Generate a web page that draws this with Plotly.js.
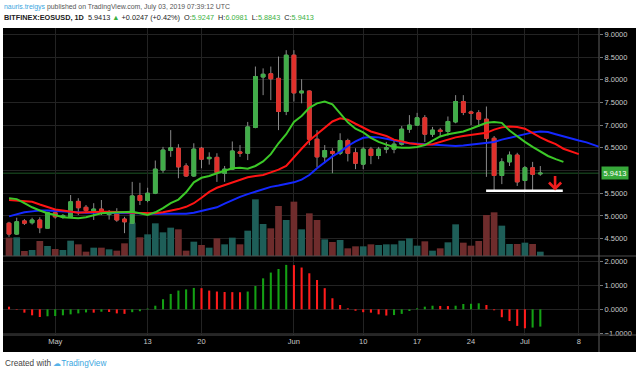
<!DOCTYPE html>
<html><head><meta charset="utf-8">
<script src="https://cdn.plot.ly/plotly-3.0.1.min.js"></script>
<style>html,body{margin:0;padding:0;background:#fff;}#chart{width:640px;height:374px;}</style>
</head><body><div id="chart"></div>
<script>
// ---- data ----
const dates = [
 '2019-04-25','2019-04-26','2019-04-27','2019-04-28','2019-04-29','2019-04-30',
 '2019-05-01','2019-05-02','2019-05-03','2019-05-04','2019-05-05','2019-05-06','2019-05-07','2019-05-08','2019-05-09','2019-05-10',
 '2019-05-11','2019-05-12','2019-05-13','2019-05-14','2019-05-15','2019-05-16','2019-05-17','2019-05-18','2019-05-19','2019-05-20',
 '2019-05-21','2019-05-22','2019-05-23','2019-05-24','2019-05-25','2019-05-26','2019-05-27','2019-05-28','2019-05-29','2019-05-30','2019-05-31',
 '2019-06-01','2019-06-02','2019-06-03','2019-06-04','2019-06-05','2019-06-06','2019-06-07','2019-06-08','2019-06-09','2019-06-10',
 '2019-06-11','2019-06-12','2019-06-13','2019-06-14','2019-06-15','2019-06-16','2019-06-17','2019-06-18','2019-06-19','2019-06-20',
 '2019-06-21','2019-06-22','2019-06-23','2019-06-24','2019-06-25','2019-06-26','2019-06-27','2019-06-28','2019-06-29','2019-06-30',
 '2019-07-01','2019-07-02','2019-07-03','2019-07-04','2019-07-05','2019-07-06','2019-07-07','2019-07-08','2019-07-09','2019-07-10','2019-07-11'
];
const opens = [4.84,4.60,4.89,4.85,4.91,4.73,5.07,4.97,4.98,5.32,
 5.19,5.11,5.15,5.03,5.08,4.93,4.84,5.45,5.34,5.50,
 6.01,6.44,6.49,6.10,5.88,6.49,6.26,6.29,5.94,6.03,
 6.41,6.38,6.95,8.06,8.13,8.03,7.30,8.54,7.71,7.75,
 6.69,6.30,6.42,6.38,6.66,6.39,6.14,6.47,6.33,6.47,
 6.47,6.58,6.91,7.00,7.16,6.80,6.89,6.86,7.07,7.52,
 7.29,7.27,7.13,6.71,5.89,6.19,6.34,5.78,6.06,5.9247];
const highs = [4.87,4.96,4.93,4.96,4.97,5.09,5.11,5.04,5.46,5.39,
 5.24,5.28,5.35,5.13,5.17,4.98,5.75,5.73,5.62,6.22,
 6.52,6.89,6.58,6.16,6.60,6.52,6.40,6.38,6.10,6.64,
 6.56,7.07,8.29,8.25,8.29,8.51,8.65,8.65,8.01,7.76,
 6.89,6.56,6.49,6.82,6.70,6.49,6.52,6.52,6.52,6.63,
 6.65,6.98,7.22,7.27,7.22,6.96,6.94,7.19,7.66,7.66,
 7.32,7.33,7.41,6.76,6.27,6.42,6.39,6.10,6.19,6.0981];
const lows = [4.54,4.58,4.80,4.81,4.62,4.73,4.94,4.94,4.97,5.02,
 5.06,4.91,5.02,4.92,4.87,4.62,4.83,5.24,5.30,5.48,
 5.95,6.30,5.83,5.86,5.86,6.05,6.13,5.75,5.75,6.01,
 6.30,6.23,6.93,7.66,7.55,6.89,7.22,7.52,7.48,6.56,
 6.07,6.16,5.94,6.34,6.20,6.03,6.03,6.14,6.25,6.38,
 6.38,6.55,6.83,6.98,6.63,6.74,6.74,6.77,7.04,7.22,
 7.00,6.96,5.86,5.57,5.70,6.10,5.66,5.57,5.57,5.8843];
const closes = [4.60,4.87,4.84,4.91,4.74,5.07,4.98,5.01,5.31,5.18,
 5.12,5.15,5.06,5.05,4.91,4.87,5.44,5.34,5.50,6.03,
 6.45,6.50,6.08,5.88,6.47,6.25,6.29,5.95,6.03,6.43,
 6.38,6.96,8.07,8.12,8.02,7.30,8.54,7.71,7.75,6.69,
 6.30,6.44,6.38,6.66,6.38,6.16,6.47,6.33,6.47,6.50,
 6.58,6.91,7.00,7.16,6.80,6.89,6.86,7.08,7.52,7.28,
 7.26,7.13,6.71,5.89,6.19,6.34,5.75,6.06,5.9166,5.9413];
const volumes = [5.5,5.6,1.5,1.8,4.5,3.0,2.1,1.8,4.6,3.5,
 1.3,2.5,2.5,2.0,1.6,3.8,10.0,5.6,6.5,9.8,
 7.1,8.5,8.0,1.6,4.3,3.3,2.5,5.3,3.5,5.5,
 3.5,7.6,17.0,9.6,8.3,15.0,10.8,16.3,8.0,12.8,
 10.8,5.0,4.2,4.8,2.3,2.9,2.9,3.5,3.3,3.5,
 3.5,4.6,5.3,3.1,4.4,1.6,2.3,4.1,9.5,4.0,
 3.1,4.5,12.3,13.1,9.1,3.6,3.6,4.0,3.6,1.3];
// Alligator lines (displaced forward, so they run past the last candle)
const lipsGreen = [5.39,5.37,5.28,5.19,5.12,5.06,5.02,4.97,4.96,4.95,
 4.97,5.02,5.06,5.07,5.08,5.09,5.09,5.06,5.02,5.08,
 5.17,5.28,5.36,5.52,5.74,5.84,5.88,5.94,6.00,6.05,
 6.06,6.04,6.10,6.20,6.36,6.60,6.80,7.07,7.20,7.38,
 7.48,7.52,7.46,7.25,7.06,6.92,6.84,6.72,6.63,6.57,
 6.52,6.50,6.50,6.52,6.56,6.66,6.75,6.80,6.83,6.86,
 6.92,6.98,7.05,7.07,7.05,6.88,6.75,6.63,6.52,6.42,
 6.32,6.25,6.19];
const teethRed = [5.35,5.34,5.33,5.31,5.25,5.19,5.14,5.12,5.10,5.07,
 5.08,5.09,5.09,5.09,5.09,5.08,5.07,5.07,5.06,5.06,
 5.08,5.11,5.15,5.20,5.28,5.40,5.53,5.62,5.68,5.74,
 5.80,5.85,5.88,5.90,5.96,6.02,6.10,6.30,6.48,6.66,
 6.80,6.95,7.08,7.15,7.12,7.03,6.94,6.86,6.81,6.76,
 6.68,6.64,6.60,6.58,6.57,6.58,6.63,6.69,6.73,6.76,
 6.78,6.80,6.83,6.90,6.95,6.97,6.96,6.92,6.82,6.73,
 6.65,6.58,6.48,6.42,6.36];
const jawBlue = [4.99,5.04,5.08,5.10,5.12,5.12,5.11,5.09,5.08,5.07,
 5.07,5.07,5.07,5.07,5.07,5.06,5.06,5.06,5.05,5.05,
 5.05,5.04,5.04,5.05,5.07,5.11,5.15,5.19,5.27,5.35,
 5.42,5.48,5.53,5.59,5.64,5.67,5.70,5.74,5.80,5.90,
 6.05,6.19,6.31,6.41,6.54,6.64,6.72,6.74,6.73,6.70,
 6.66,6.63,6.60,6.59,6.57,6.56,6.55,6.54,6.54,6.55,
 6.57,6.58,6.60,6.63,6.68,6.72,6.76,6.80,6.84,6.86,
 6.85,6.80,6.75,6.70,6.66,6.62,6.56,6.50];
const macdHist = [0.11,-0.02,-0.14,-0.25,-0.32,-0.29,-0.28,-0.25,-0.21,-0.17,
 -0.13,-0.14,-0.10,-0.11,-0.17,-0.19,-0.12,-0.08,0.03,0.15,
 0.42,0.64,0.78,0.83,0.89,0.88,0.78,0.74,0.72,0.715,
 0.71,0.74,0.97,1.29,1.53,1.68,1.85,1.84,1.74,1.50,
 1.22,0.88,0.46,0.18,0.04,-0.06,-0.12,-0.14,-0.21,-0.26,
 -0.24,-0.19,-0.07,0.04,0.11,0.15,0.14,0.135,0.15,0.22,
 0.23,0.25,0.18,-0.04,-0.33,-0.49,-0.69,-0.79,-0.76,-0.72];
const xTickVals = ['2019-05-01','2019-05-13','2019-05-20','2019-06-01','2019-06-10','2019-06-17','2019-06-24','2019-07-01','2019-07-08'];
const xTickText = ['May','13','20','Jun','10','17','24','Jul','8'];
// 6.0000 sits behind the last-price label in the reference, so it only keeps its grid line
const priceTickVals = [4.5,5.0,5.5,6.5,7.0,7.5,8.0,8.5,9.0];
const priceHiddenTick = [6.0];
const macdTickVals = [-1,0,1,2];
const supportLevel = 5.555, supportStart = '2019-06-25 23:00', supportEnd = '2019-07-05 22:00';
const arrowAt = '2019-07-04 22:00', arrowTip = 5.56;
const symbol = 'BITFINEX:EOSUSD, 1D';
const author = 'nauris.treigys';
const published = ' published on TradingView.com, July 03, 2019 07:39:12 UTC';

// ---- geometry helpers ----
const W=640, H=374, ML=3, MR=41, MT=28, MB=39;
const PW=W-ML-MR, PH=H-MT-MB;
const px2x = p => (p-ML)/PW;
const px2y = p => (H-MB-p)/PH;
const split = px2y(256);

const UP='#41ad49', DN='#e0302b', WICK='#8a8a8a';
const VUP='#1e5e58', VDN='#6e2c2c';
const MUP='#14a014', MDN='#ff1c1c';
const GRID='#232323', TXT='#c8c8c8', SEP='#4f4f4f';
const FAM='Liberation Sans, Arial, sans-serif';
const n = closes.length;
const cd = dates.slice(0,n);
const last = n-1;
const chg = closes[last]-closes[last-1];
const pct = chg/closes[last-1]*100;

const tickFont = {family:FAM, size:7.5, color:TXT};

const traces = [
 {type:'bar', x:cd, y:volumes, xaxis:'x', yaxis:'y',
  marker:{color:cd.map((d,i)=>closes[i]>=opens[i]?VUP:VDN), line:{width:0}}, hoverinfo:'skip'},
 {type:'candlestick', x:cd, open:opens, high:highs, low:lows, close:closes, xaxis:'x', yaxis:'y3',
  whiskerwidth:0,
  increasing:{line:{color:WICK,width:1}, fillcolor:WICK},
  decreasing:{line:{color:WICK,width:1}, fillcolor:WICK}, hoverinfo:'skip'},
 {type:'candlestick', x:cd, open:opens, close:closes,
  high:cd.map((d,i)=>Math.max(opens[i],closes[i])), low:cd.map((d,i)=>Math.min(opens[i],closes[i])),
  xaxis:'x', yaxis:'y3', whiskerwidth:0,
  increasing:{line:{color:UP,width:1}, fillcolor:UP},
  decreasing:{line:{color:DN,width:1}, fillcolor:DN}, hoverinfo:'skip'},
 {type:'scatter', mode:'lines', x:dates.slice(0,jawBlue.length), y:jawBlue, xaxis:'x', yaxis:'y3', line:{color:'#1428ff',width:2}, hoverinfo:'skip'},
 {type:'scatter', mode:'lines', x:dates.slice(0,teethRed.length), y:teethRed, xaxis:'x', yaxis:'y3', line:{color:'#ff1414',width:2}, hoverinfo:'skip'},
 {type:'scatter', mode:'lines', x:dates.slice(0,lipsGreen.length), y:lipsGreen, xaxis:'x', yaxis:'y3', line:{color:'#3cc828',width:2}, hoverinfo:'skip'},
 {type:'bar', x:cd, y:macdHist, xaxis:'x', yaxis:'y2', width:0.27*86400000,
  marker:{color:macdHist.map((v,i)=> i===0 ? MDN : (v>=macdHist[i-1]?MUP:MDN)), line:{width:0}}, hoverinfo:'skip'}
];

const green = '#3cb043';
const sp = (c,t)=>'<span style="color:'+c+'">'+t+'</span>';
const nb = '\u00a0';
const line2 = '<b>'+symbol+'</b>'+nb+nb+closes[last].toFixed(4)+nb+sp(green,'▲')+nb+(chg>=0?'+':'')+chg.toFixed(4)+' ('+(chg>=0?'+':'')+pct.toFixed(2)+'%)'+nb+nb+
  'O:'+sp(green,opens[last].toFixed(4))+nb+nb+'H:'+sp(green,highs[last].toFixed(4))+nb+nb+'L:'+sp(green,lows[last].toFixed(4))+nb+nb+'C:'+sp(green,closes[last].toFixed(4));

const layout = {
 width:W, height:H, margin:{l:ML, r:MR, t:MT, b:MB, pad:0},
 paper_bgcolor:'#ffffff', plot_bgcolor:'#000000',
 showlegend:false, hovermode:false, dragmode:false, bargap:0.13,
 font:{family:FAM, size:7.5, color:TXT},
 xaxis:{type:'date', anchor:'y2', domain:[0,1], range:['2019-04-24 05:17','2019-07-10 14:53'],
  rangeslider:{visible:false}, showgrid:true, gridcolor:GRID, gridwidth:1, zeroline:false, showline:false,
  tickmode:'array', tickvals:xTickVals, ticktext:xTickText, ticks:'', tickfont:tickFont, fixedrange:true},
 yaxis:{domain:[split,1], range:[0,68.4], visible:false, fixedrange:true},
 yaxis3:{overlaying:'y', anchor:'x', side:'right', range:[4.117,9.139], tickmode:'array', tickvals:priceTickVals, tickformat:'.4f',
  showgrid:true, gridcolor:GRID, zeroline:false, showline:false, ticks:'outside', ticklen:3, tickcolor:'#777',
  minor:{tickmode:'array', tickvals:priceHiddenTick, showgrid:true, gridcolor:GRID, ticks:''},
  tickfont:tickFont, fixedrange:true},
 yaxis2:{domain:[0,split], anchor:'x', side:'right', range:[-1.07,2.22], tickmode:'array', tickvals:macdTickVals, tickformat:'.4f',
  showgrid:true, gridcolor:GRID, zeroline:false, showline:false, ticks:'outside', ticklen:3, tickcolor:'#777',
  tickfont:tickFont, fixedrange:true},
 shapes:[
  {type:'rect', xref:'paper', yref:'paper', x0:px2x(3), x1:px2x(636), y0:px2y(352), y1:1, fillcolor:'#000', line:{width:0}, layer:'below'},
  {type:'line', xref:'paper', yref:'y3', x0:0, x1:1, y0:closes[last], y1:closes[last], line:{color:'#1d5626', width:1}, layer:'below'},
  {type:'line', xref:'x', yref:'y3', x0:supportStart, x1:supportEnd, y0:supportLevel, y1:supportLevel, line:{color:'#ffffff', width:2.5}},
  {type:'line', xref:'paper', yref:'paper', x0:0, x1:px2x(636), y0:split, y1:split, line:{color:SEP, width:1.2}},
  {type:'line', xref:'paper', yref:'paper', x0:0, x1:px2x(636), y0:0, y1:0, line:{color:SEP, width:1.2}},
  {type:'line', xref:'paper', yref:'paper', x0:1, x1:1, y0:px2y(352), y1:1, line:{color:SEP, width:1.2}}
 ],
 annotations:[
  {xref:'paper', yref:'paper', x:px2x(2), y:px2y(7), xanchor:'left', yanchor:'middle', showarrow:false,
   text:sp('#3aa6e0',author)+sp('#555555',published), font:{family:FAM, size:6.9, color:'#555'}},
  {xref:'paper', yref:'paper', x:px2x(2), y:px2y(17.5), xanchor:'left', yanchor:'middle', showarrow:false,
   text:line2, font:{family:FAM, size:7.3, color:'#222'}},
  {xref:'paper', yref:'y3', x:1, xshift:1.5, y:closes[last], xanchor:'left', yanchor:'middle', showarrow:false,
   text:closes[last].toFixed(4), bgcolor:'#37a83a', borderpad:1.5, font:{family:FAM, size:7.5, color:'#ffffff'}},
  {xref:'x', yref:'y3', x:arrowAt, y:arrowTip, ax:0, ay:-16, showarrow:true, arrowhead:4, arrowsize:0.9, arrowwidth:2.6, arrowcolor:'#f01e1e', text:''},
  {xref:'paper', yref:'paper', x:px2x(3), y:px2y(363), xanchor:'left', yanchor:'middle', showarrow:false,
   text:sp('#444444','Created with')+nb+sp('#56b2e8','☁')+sp('#3aa6e0','TradingView'), font:{family:FAM, size:8.2, color:'#444'}}
 ]
};

Plotly.newPlot('chart', traces, layout, {staticPlot:true, displayModeBar:false});
</script>
</body></html>
